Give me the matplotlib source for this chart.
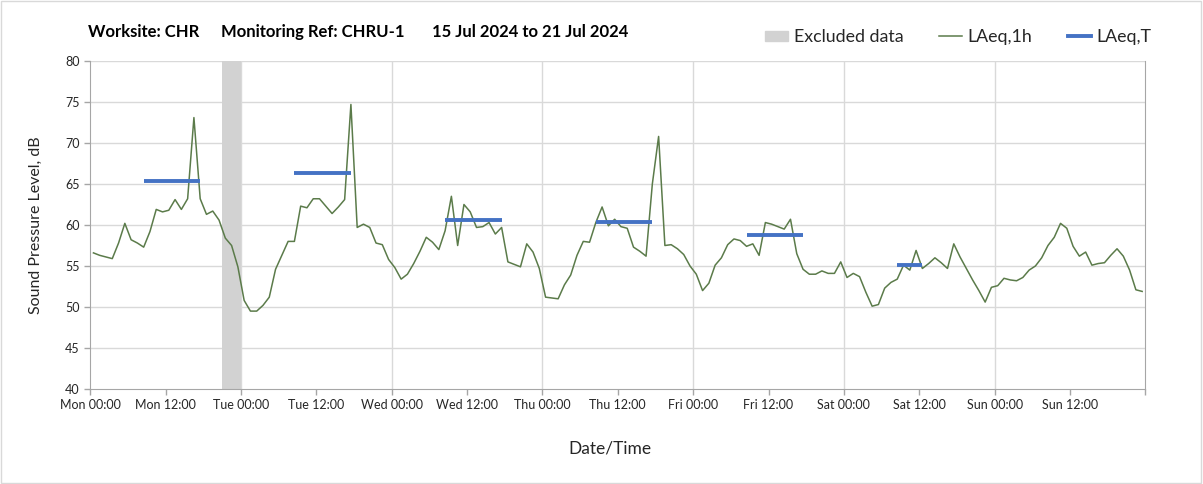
import matplotlib
matplotlib.use('Agg')
import matplotlib.pyplot as plt
from matplotlib.patches import Rectangle, Patch
from matplotlib.lines import Line2D
import pandas as pd

plt.rcParams['font.family'] = ['Lato', 'DejaVu Sans']

# hourly LAeq,1h values, Mon 15 Jul 00:00 .. Sun 21 Jul 23:00 (one row = 12 h)
laeq_1h = [
    56.6, 56.3, 56.1, 55.9, 57.8, 60.2, 58.2, 57.8, 57.3, 59.2, 61.9, 61.6,
    61.8, 63.1, 61.9, 63.2, 73.1, 63.2, 61.3, 61.7, 60.6, 58.4, 57.5, 54.9,
    50.8, 49.5, 49.5, 50.2, 51.2, 54.6, 56.3, 58.0, 58.0, 62.3, 62.1, 63.2,
    63.2, 62.3, 61.4, 62.2, 63.1, 74.7, 59.7, 60.1, 59.7, 57.8, 57.6, 55.8,
    54.8, 53.4, 54.0, 55.3, 56.8, 58.5, 57.9, 57.0, 59.3, 63.5, 57.5, 62.5,
    61.6, 59.7, 59.8, 60.3, 58.9, 59.7, 55.5, 55.2, 54.9, 57.7, 56.7, 54.7,
    51.2, 51.1, 51.0, 52.7, 53.9, 56.3, 58.0, 57.9, 60.3, 62.2, 59.9, 60.7,
    59.8, 59.6, 57.3, 56.8, 56.2, 65.0, 70.8, 57.5, 57.6, 57.1, 56.4, 55.0,
    54.0, 52.0, 52.9, 55.1, 56.0, 57.6, 58.3, 58.1, 57.4, 57.7, 56.3, 60.3,
    60.1, 59.8, 59.5, 60.7, 56.5, 54.6, 54.0, 54.0, 54.4, 54.1, 54.1, 55.5,
    53.6, 54.1, 53.7, 51.8, 50.1, 50.3, 52.3, 53.0, 53.4, 55.1, 54.5, 56.9,
    54.7, 55.3, 56.0, 55.4, 54.7, 57.7, 56.1, 54.7, 53.3, 52.0, 50.6, 52.4,
    52.6, 53.5, 53.3, 53.2, 53.6, 54.5, 55.0, 56.0, 57.5, 58.5, 60.2, 59.6,
    57.4, 56.2, 56.7, 55.1, 55.3, 55.4, 56.3, 57.1, 56.2, 54.5, 52.1, 51.9,
]
# each hourly value plotted at the middle of its hour
times = pd.date_range('2024-07-15 00:30', periods=len(laeq_1h), freq='h')

# LAeq,T for the daytime working periods
laeq_t_start = ['2024-07-15 08:30', '2024-07-16 08:30', '2024-07-17 08:30',
                '2024-07-18 08:30', '2024-07-19 08:30', '2024-07-20 08:30']
laeq_t_end = ['2024-07-15 17:30', '2024-07-16 17:30', '2024-07-17 17:30',
              '2024-07-18 17:30', '2024-07-19 17:30', '2024-07-20 12:30']
laeq_t = [65.4, 66.4, 60.6, 60.4, 58.8, 55.1]

excluded_start = '2024-07-15 21:00'
excluded_end = '2024-07-16 00:00'

t0 = pd.Timestamp('2024-07-15 00:00')
t1 = pd.Timestamp('2024-07-22 00:00')

green = '#5b7b4a'
blue = '#4472c4'
grey_band = '#d2d2d2'
grid_c = '#d9d9d9'
axis_c = '#a6a6a6'

fig = plt.figure(figsize=(12.03, 4.84), dpi=100)
ax = fig.add_axes([90.3 / 1203, 1 - 389 / 484, 1055 / 1203, 328 / 484])

ax.axvspan(pd.Timestamp(excluded_start), pd.Timestamp(excluded_end),
           color=grey_band, lw=0, zorder=1)
ax.plot(times, laeq_1h, color=green, lw=1.1, zorder=3)
ax.hlines(laeq_t, pd.to_datetime(laeq_t_start), pd.to_datetime(laeq_t_end),
          color=blue, lw=2.8, zorder=4)

ax.set_xlim(t0, t1)
ax.set_ylim(40, 80)
ax.set_yticks(range(40, 81, 5))

ticks = pd.date_range(t0, t1, freq='12h')
ax.set_xticks(ticks)
labels = [t.strftime('%a %H:%M') for t in ticks]
labels[-1] = ''
ax.set_xticklabels(labels)

# horizontal grid every 5 dB, vertical grid at midnight only
for y in range(45, 81, 5):
    ax.axhline(y, color=grid_c, lw=1.0, zorder=0)
for t in pd.date_range(t0, t1, freq='24h')[1:-1]:
    ax.axvline(t, color=grid_c, lw=1.0, zorder=0)

for s in ['left', 'bottom']:
    ax.spines[s].set_color(axis_c)
ax.spines['top'].set_visible(False)
ax.spines['right'].set_color(axis_c)
ax.tick_params(axis='both', colors=axis_c, length=4, width=1, labelsize=9,
               labelcolor='#262626')
ax.tick_params(axis='x', pad=3)

ax.set_ylabel('Sound Pressure Level, dB', fontsize=11.5, color='#262626')
ax.yaxis.set_label_coords(-0.045, 0.5)
ax.set_xlabel('Date/Time', fontsize=12.5, color='#262626')
ax.xaxis.set_label_coords(0.493, -0.158)

ty = 1 - 32 / 484
fig.text(88 / 1203, ty, 'Worksite: CHR', fontsize=12, fontweight='bold', va='center')
fig.text(221 / 1203, ty, 'Monitoring Ref: CHRU-1', fontsize=12, fontweight='bold', va='center')
fig.text(432 / 1203, ty, '15 Jul 2024 to 21 Jul 2024', fontsize=12, fontweight='bold', va='center')

handles = [Patch(color=grey_band, label='Excluded data'),
           Line2D([], [], color=green, lw=1.1, label='LAeq,1h'),
           Line2D([], [], color=blue, lw=2.8, label='LAeq,T')]
fig.legend(handles=handles, loc='center right', bbox_to_anchor=(1167 / 1203, 1 - 37 / 484),
           ncol=3, frameon=False, fontsize=12.8, handlelength=1.3, handleheight=0.5,
           columnspacing=2.0, handletextpad=0.3, labelcolor='#262626')

fig.patches.append(Rectangle((0.001, 0.002), 0.997, 0.996, transform=fig.transFigure,
                             fill=False, ec=grid_c, lw=1))

fig.savefig('out.png', dpi=100, facecolor='white')
